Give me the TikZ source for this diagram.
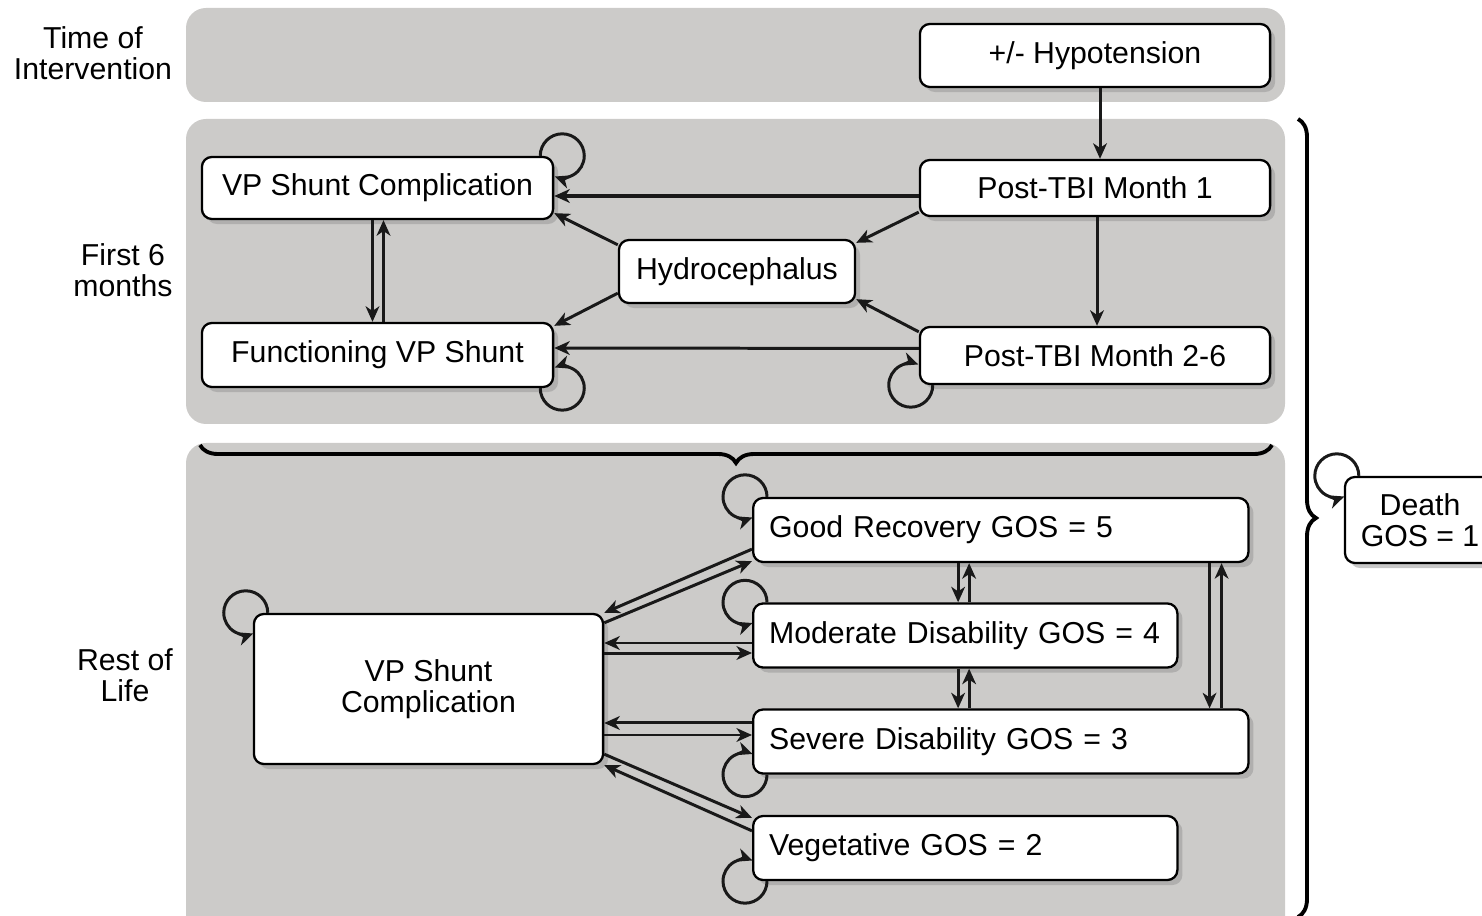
\documentclass[tikz,border=0pt]{standalone}
\usepackage{fontspec}
\setmainfont{Liberation Sans}
\usetikzlibrary{arrows.meta, shadows, decorations.pathreplacing}
\definecolor{panelgray}{RGB}{204,203,201}

\begin{document}
\begin{tikzpicture}[x=0.01cm, y=-0.01cm, font=\fontsize{8.6}{8.9}\selectfont,
	stbox/.style={draw, fill=white, rounded corners=0.1cm, line width=0.65pt, inner sep=0.05cm, align=center,
		drop shadow={shadow xshift=0.05cm, shadow yshift=-0.05cm, fill=black!40, opacity=0.55}},
	gos/.style={stbox, anchor=west, align=left, inner xsep=0.16cm, minimum height=0.64cm},
	trans/.style={-{Stealth[length=4.4pt, width=3.9pt, inset=1.3pt]}, line width=0.85pt, draw=black!90},
	panel/.style={fill=panelgray, rounded corners=0.2cm},
	bracket/.style={decorate, decoration={brace, amplitude=0.18cm}, line width=1.1pt}]
		%\draw[help lines] (0,0) grid[step=100] (1482,916);
		\useasboundingbox (0,0) rectangle (1482,916);
		
		\fill[panel] (186,8) rectangle (1285,102);
		\fill[panel] (186,119) rectangle (1285,424);
		\fill[panel] (186,443) rectangle (1285,940);
		
		\node[align=center] (tlab) at (93,53) {Time of\\Intervention};
		\node[align=center] (flab) at (123,270) {First 6\\months};
		\node[align=center] (rlab) at (125,675) {Rest of\\Life};
		
		\node[stbox, minimum width=3.5cm, minimum height=0.63cm] (hypo) at (1095,55.5) {+/- Hypotension};
		\node[stbox, minimum width=3.5cm, minimum height=0.56cm] (m1) at (1095,188) {Post-TBI Month 1};
		\node[stbox, minimum width=3.5cm, minimum height=0.57cm] (m26) at (1095,355.5) {Post-TBI Month 2-6};
		\node[stbox, minimum width=3.51cm, minimum height=0.62cm] (vpsc) at (377.5,188) {VP Shunt Complication};
		\node[stbox, minimum width=3.51cm, minimum height=0.64cm] (fvps) at (377.5,355) {Functioning VP Shunt};
		\node[stbox, minimum width=2.36cm, minimum height=0.63cm] (hydro) at (737,271.5) {Hydrocephalus};
		
		\node[stbox, minimum width=3.49cm, minimum height=1.5cm] (vpsc2) at (428.5,689) {VP Shunt\\Complication};
		\foreach \n/\y/\w/\t in {gr/530/4.63/Good Recovery GOS = 5, md/635.5/3.92/Moderate Disability GOS = 4,
			sd/741.5/4.63/Severe Disability GOS = 3, vg/848/3.92/Vegetative GOS = 2}
		\node[gos, text width=\w cm] (\n) at (752,\y) {\t};
		
		\node[stbox, minimum width=1.5cm, minimum height=0.86cm] (death) at (1420,520) {Death\\GOS = 1};
		
		% first six months
		\draw[trans] ([xshift=0.05cm]hypo.south) -- ([xshift=0.05cm]m1.north);
		\draw[trans] ([xshift=0.02cm]m1.south) -- ([xshift=0.02cm]m26.north);
		\draw[trans, line width=1.2pt] ([yshift=-0.08cm]m1.west) -- ([yshift=-0.08cm]vpsc.east);
		\draw[trans] ([yshift=0.05cm]m1.south west) -- ([yshift=-0.04cm]hydro.north east);
		\draw[trans] ([yshift=-0.06cm]hydro.north west) -- ([yshift=0.07cm]vpsc.south east);
		\draw[trans] ([yshift=0.11cm]hydro.south west) -- ([yshift=-0.04cm]fvps.north east);
		\draw[trans] ([yshift=-0.06cm]m26.north west) -- ([yshift=0.05cm]hydro.south east);
		\draw[trans] ([yshift=0.07cm]m26.west) -- ([yshift=0.07cm]fvps.east);
		\draw[trans] ([xshift=-0.05cm]vpsc.south) -- ([xshift=-0.05cm]fvps.north);
		\draw[trans] ([xshift=0.06cm]fvps.north) -- ([xshift=0.06cm]vpsc.south);
		
		\draw[trans] ([xshift=-0.14cm]vpsc.north east) arc[start angle=180, end angle=-110, radius=0.22cm];
		\draw[trans] ([xshift=-0.14cm]fvps.south east) arc[start angle=180, end angle=470, radius=0.22cm];
		\draw[trans] ([xshift=0.14cm]m26.south west) arc[start angle=0, end angle=-290, radius=0.22cm];
		
		% rest of life
		\draw[trans] ([yshift=0.14cm]gr.south west) -- (vpsc2.north east);
		\draw[trans] ([yshift=-0.1cm]vpsc2.north east) -- ([yshift=0.02cm]gr.south west);
		\draw[trans] ([yshift=-0.075cm]md.west) -- ([yshift=-0.075cm]md.west -| vpsc2.east);
		\draw[trans] ([yshift=-0.175cm]md.west -| vpsc2.east) -- ([yshift=-0.175cm]md.west);
		\draw[trans] ([yshift=0.185cm]sd.west) -- ([yshift=0.185cm]sd.west -| vpsc2.east);
		\draw[trans] ([yshift=0.065cm]sd.west -| vpsc2.east) -- ([yshift=0.065cm]sd.west);
		\draw[trans] ([yshift=0.11cm]vpsc2.south east) -- ([yshift=-0.03cm]vg.north west);
		\draw[trans] ([yshift=-0.16cm]vg.north west) -- (vpsc2.south east);
		
		\foreach \a/\b in {gr/md, md/sd} {
			\draw[trans] ([xshift=2.06cm]\a.south west) -- ([xshift=2.06cm]\b.north west);
			\draw[trans] ([xshift=2.17cm]\b.north west) -- ([xshift=2.17cm]\a.south west);
		}
		\draw[trans] ([xshift=-0.4cm]gr.south east) -- ([xshift=-0.4cm]sd.north east);
		\draw[trans] ([xshift=-0.28cm]sd.north east) -- ([xshift=-0.28cm]gr.south east);
		
		\foreach \n in {gr, md, vpsc2, death}
		\draw[trans] ([xshift=0.15cm]\n.north west) arc[start angle=0, end angle=290, radius=0.22cm];
		\foreach \n in {sd, vg}
		\draw[trans] ([xshift=0.15cm]\n.south west) arc[start angle=0, end angle=-290, radius=0.22cm];
		
		\draw[bracket] (1272,445) -- (200,445);
		\draw[bracket] (1298,119) -- (1298,917);
	\end{tikzpicture}
\end{document}
